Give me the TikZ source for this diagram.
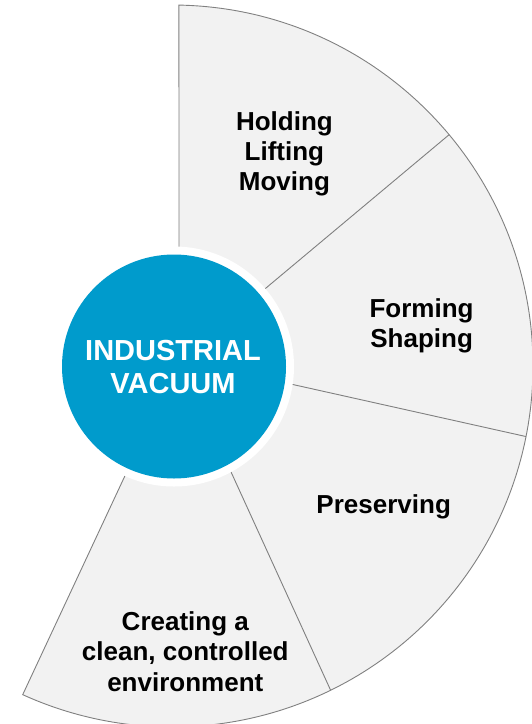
\documentclass[tikz,border=0pt]{standalone}
\usepackage{fontspec}
\setmainfont{Liberation Sans}
\usetikzlibrary{calc}
\definecolor{vacblue}{RGB}{0,155,204}
\definecolor{segfill}{RGB}{242,242,242}
\definecolor{segline}{RGB}{128,128,128}
\begin{document}
\begin{tikzpicture}[x=1pt,y=-1pt,
  lbl/.style={font=\bfseries\fontsize{26}{30.5}\selectfont, anchor=base, inner sep=0pt},
  corelbl/.style={font=\bfseries\fontsize{29}{33.3}\selectfont, text=white, anchor=base, inner sep=0pt},
  segedge/.style={draw=segline, line width=0.9pt}]
\useasboundingbox (0,0) rectangle (531,724);
\coordinate (O) at (172,366);
\coordinate (C) at (174,366.5);
\coordinate (t0) at ($(O)+(-88.9:361)$);
\coordinate (t1) at ($(O)+(-39.85:361)$);
\coordinate (t2) at ($(O)+(11.27:361)$);
\coordinate (t3) at ($(O)+(63.93:361)$);
\coordinate (i0) at (179,256);
\coordinate (i1) at (258,294.7);
\coordinate (i2) at (285.2,382.8);
\coordinate (i3) at (227.5,464.2);
\coordinate (i4) at (128.5,468.2);
% segments
\fill[segfill] (i0) -- (t0) arc[start angle=-88.9, end angle=114.43, radius=361] -- (i4) -- (C) -- cycle;
\draw[segedge] (i0) -- (t0) arc[start angle=-88.9, end angle=114.43, radius=361] -- (i4);
\draw[segedge] (i1) -- (t1);
\draw[segedge] (i2) -- (t2);
\draw[segedge] (i3) -- (t3);
% core
\fill[white] (C) circle[radius=120];
\fill[vacblue] (C) circle[radius=112];
% labels
\node[lbl] (hold) at (284.4,130) {Holding};
\node[lbl] (lift) at (284.4,160.3) {Lifting};
\node[lbl] (move) at (284.4,190.6) {Moving};
\node[lbl] (form) at (421.6,317.3) {Forming};
\node[lbl] (shap) at (421.6,347.8) {Shaping};
\node[lbl] (pres) at (383.7,513.3) {Preserving};
\node[lbl] (env1) at (185.3,630.2) {Creating a};
\node[lbl] (env2) at (185.3,660.7) {clean, controlled};
\node[lbl] (env3) at (185.3,691.2) {environment};
\node[corelbl] (ind) at (173,360) {INDUSTRIAL};
\node[corelbl] (vac) at (173,393.3) {VACUUM};
\end{tikzpicture}
\end{document}
